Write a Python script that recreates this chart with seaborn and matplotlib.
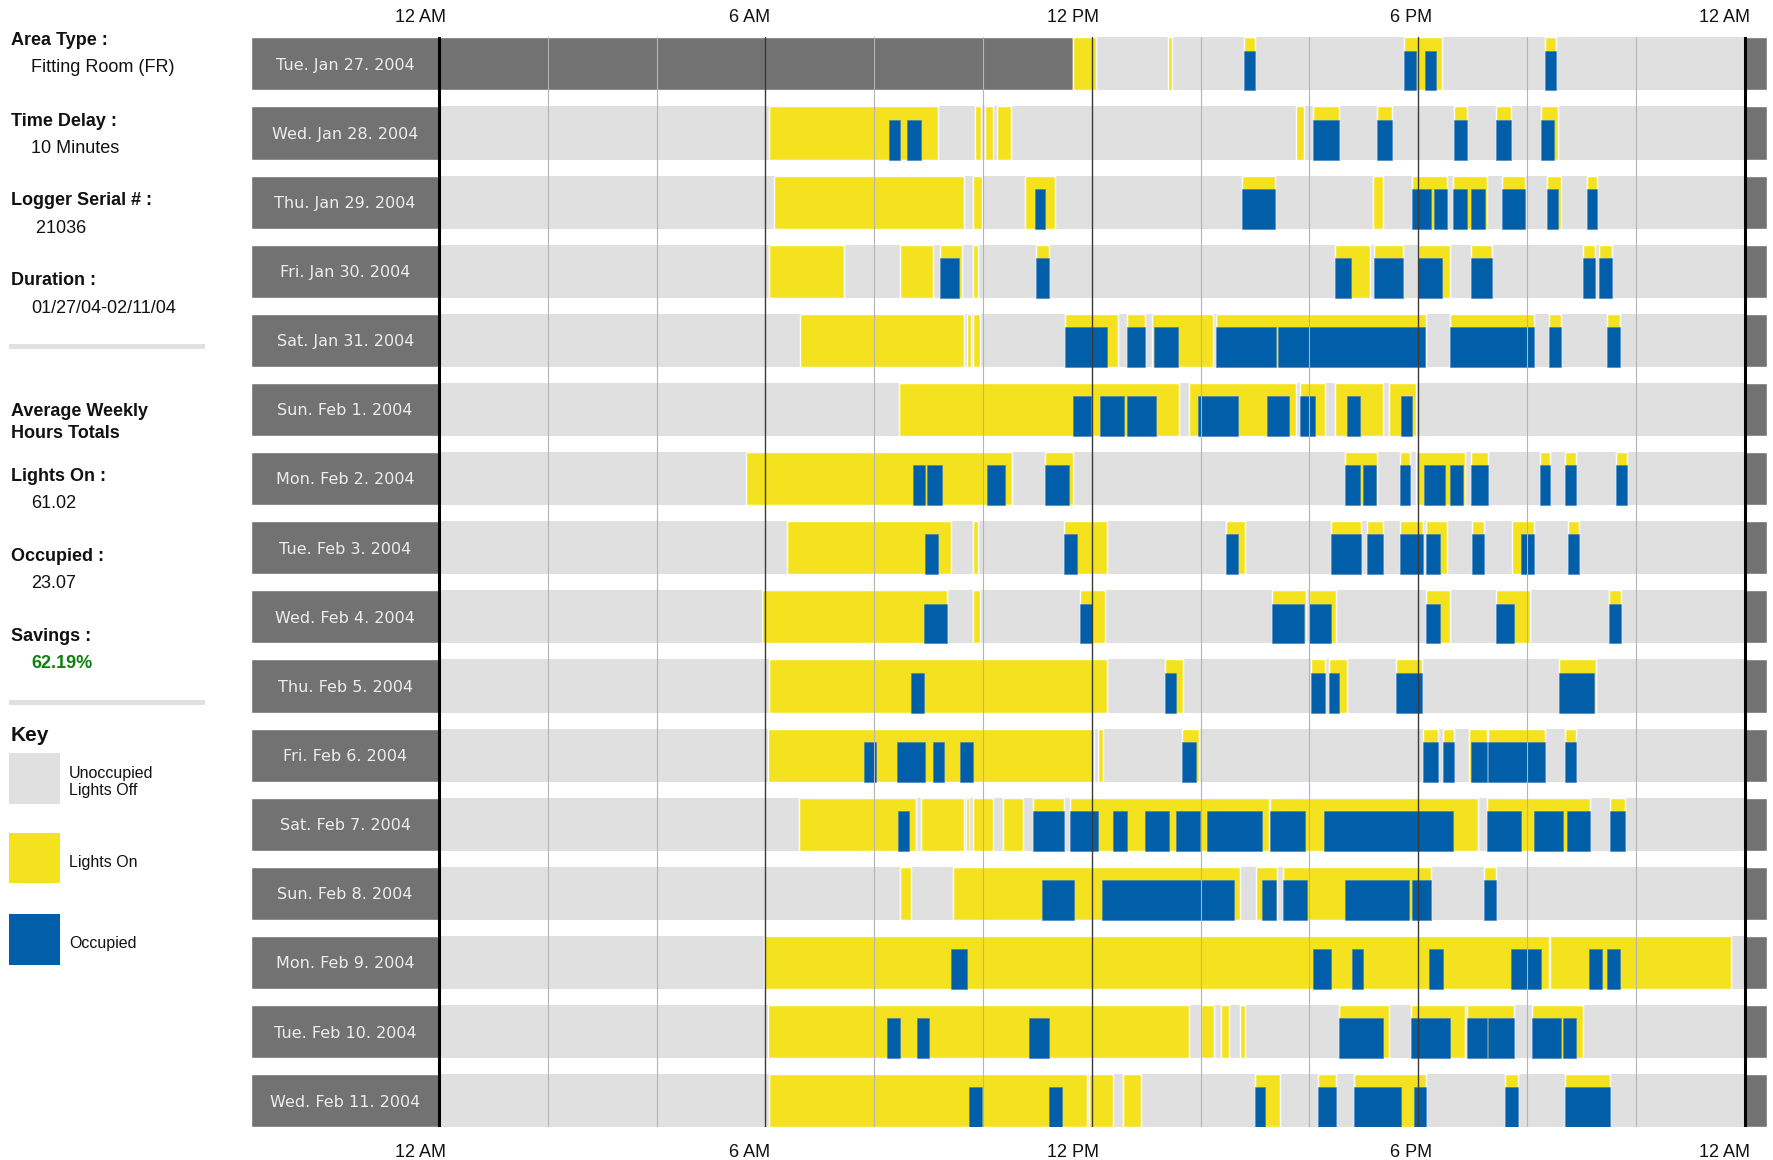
import matplotlib
matplotlib.use("Agg")
import matplotlib.pyplot as plt
from matplotlib.patches import Rectangle
import seaborn as sns

# ---- data (hours of day) ----
dates = ["Tue. Jan 27. 2004", "Wed. Jan 28. 2004", "Thu. Jan 29. 2004", "Fri. Jan 30. 2004",
         "Sat. Jan 31. 2004", "Sun. Feb 1. 2004", "Mon. Feb 2. 2004", "Tue. Feb 3. 2004",
         "Wed. Feb 4. 2004", "Thu. Feb 5. 2004", "Fri. Feb 6. 2004", "Sat. Feb 7. 2004",
         "Sun. Feb 8. 2004", "Mon. Feb 9. 2004", "Tue. Feb 10. 2004", "Wed. Feb 11. 2004"]

no_data = [(0, 11.65)]  # logger not yet running on first day

lights_on = [
    [(11.65, 12.07), (13.39, 13.47), (14.79, 14.99), (17.73, 18.43), (20.33, 20.54)],
    [(6.06, 9.18), (9.85, 9.96), (10.04, 10.18), (10.25, 10.51), (15.75, 15.89), (16.06, 16.54),
     (17.25, 17.52), (18.66, 18.89), (19.42, 19.70), (20.26, 20.57)],
    [(6.15, 9.65), (9.81, 9.98), (10.77, 11.32), (14.76, 15.36), (17.16, 17.36), (17.89, 18.52),
     (18.63, 19.26), (19.53, 19.96), (20.36, 20.63), (21.10, 21.29)],
    [(6.06, 7.44), (8.47, 9.08), (9.21, 9.61), (9.81, 9.91), (10.98, 11.22), (16.46, 17.11),
     (17.19, 17.72), (17.99, 18.59), (18.96, 19.36), (21.02, 21.24), (21.33, 21.56)],
    [(6.63, 9.65), (9.71, 9.77), (9.82, 9.95), (11.51, 12.48), (12.64, 12.98), (13.11, 14.22),
     (14.28, 18.15), (18.59, 20.12), (20.40, 20.63), (21.46, 21.70)],
    [(8.45, 13.61), (13.79, 15.75), (15.82, 16.28), (16.46, 17.36), (17.46, 17.96)],
    [(5.64, 10.54), (11.14, 11.65), (16.66, 17.25), (17.66, 17.85), (17.96, 18.85), (18.96, 19.28),
     (20.24, 20.43), (20.70, 20.89), (21.63, 21.83)],
    [(6.40, 9.41), (9.82, 9.91), (11.48, 12.28), (14.46, 14.81), (16.39, 16.95), (17.06, 17.36),
     (17.66, 18.09), (18.14, 18.52), (18.99, 19.20), (19.72, 20.12), (20.76, 20.96)],
    [(5.94, 9.34), (9.82, 9.94), (11.78, 12.25), (15.32, 15.93), (15.99, 16.49), (18.15, 18.59),
     (19.43, 20.06), (21.50, 21.73)],
    [(6.07, 12.28), (13.35, 13.67), (16.02, 16.28), (16.36, 16.69), (17.59, 18.07), (20.59, 21.26)],
    [(6.04, 12.04), (12.12, 12.21), (13.66, 13.96), (18.09, 18.36), (18.46, 18.66), (18.93, 19.26),
     (19.29, 20.33), (20.70, 20.89)],
    [(6.61, 8.77), (8.85, 9.65), (9.69, 9.74), (9.82, 10.18), (10.36, 10.74), (10.92, 11.48),
     (11.59, 15.25), (15.28, 19.10), (19.27, 21.16), (21.53, 21.80)],
    [(8.48, 8.68), (9.45, 14.72), (15.02, 15.41), (15.52, 18.23), (19.20, 19.42)],
    [(5.97, 20.40), (20.43, 23.74)],
    [(6.04, 13.79), (14.00, 14.25), (14.38, 14.52), (14.72, 14.81), (16.55, 17.46), (17.86, 18.86),
     (18.89, 19.76), (20.09, 21.02)],
    [(6.07, 11.91), (11.94, 12.38), (12.58, 12.91), (14.99, 15.46), (16.16, 16.49), (16.82, 18.15),
     (19.59, 19.83), (20.70, 21.53)],
]

occupied = [
    [(14.79, 14.99), (17.73, 17.96), (18.12, 18.33), (20.33, 20.54)],
    [(8.27, 8.48), (8.60, 8.85), (16.06, 16.54), (17.25, 17.52), (18.66, 18.89), (19.42, 19.70),
     (20.26, 20.50)],
    [(10.95, 11.14), (14.76, 15.36), (17.89, 18.23), (18.29, 18.52), (18.63, 18.90), (18.97, 19.23),
     (19.53, 19.96), (20.36, 20.57), (21.10, 21.29)],
    [(9.21, 9.55), (10.98, 11.22), (16.46, 16.76), (17.19, 17.72), (17.99, 18.43), (18.96, 19.36),
     (21.02, 21.24), (21.33, 21.56)],
    [(11.51, 12.28), (12.64, 12.98), (13.15, 13.59), (14.28, 15.38), (15.42, 18.12), (18.59, 20.12),
     (20.40, 20.63), (21.46, 21.70)],
    [(11.65, 11.98), (12.15, 12.59), (12.65, 13.18), (13.95, 14.68), (15.22, 15.62), (15.82, 16.11),
     (16.69, 16.92), (17.69, 17.89)],
    [(8.71, 8.94), (8.97, 9.24), (10.08, 10.41), (11.14, 11.58), (16.66, 16.92), (16.99, 17.22),
     (17.66, 17.85), (18.10, 18.49), (18.59, 18.82), (18.96, 19.28), (20.24, 20.43), (20.70, 20.89),
     (21.63, 21.83)],
    [(8.94, 9.18), (11.48, 11.72), (14.46, 14.68), (16.39, 16.95), (17.06, 17.36), (17.66, 18.09),
     (18.14, 18.39), (18.99, 19.20), (19.89, 20.12), (20.76, 20.96)],
    [(8.91, 9.34), (11.78, 12.01), (15.32, 15.89), (15.99, 16.39), (18.15, 18.39), (19.43, 19.76),
     (21.50, 21.73)],
    [(8.68, 8.91), (13.35, 13.54), (16.02, 16.28), (16.36, 16.55), (17.59, 18.07), (20.59, 21.23)],
    [(7.81, 8.04), (8.41, 8.94), (9.08, 9.28), (9.58, 9.82), (13.66, 13.92), (18.09, 18.36),
     (18.46, 18.66), (18.96, 19.26), (19.29, 20.33), (20.70, 20.89)],
    [(8.44, 8.64), (10.92, 11.48), (11.59, 12.11), (12.38, 12.65), (12.98, 13.41), (13.55, 13.98),
     (14.12, 15.12), (15.28, 15.92), (16.26, 18.63), (19.27, 19.89), (20.13, 20.66), (20.73, 21.16),
     (21.53, 21.80)],
    [(11.08, 11.68), (12.18, 14.62), (15.12, 15.38), (15.52, 15.95), (16.65, 17.82), (17.89, 18.23),
     (19.20, 19.42)],
    [(9.41, 9.71), (16.06, 16.39), (16.79, 16.99), (18.20, 18.46), (19.70, 20.26), (21.13, 21.37),
     (21.46, 21.70)],
    [(8.24, 8.48), (8.78, 9.01), (10.84, 11.22), (16.55, 17.36), (17.86, 18.59), (18.89, 19.26),
     (19.29, 19.76), (20.09, 20.63), (20.66, 20.89)],
    [(9.74, 9.98), (11.22, 11.45), (14.99, 15.19), (16.16, 16.49), (16.82, 17.69), (17.92, 18.15),
     (19.59, 19.83), (20.70, 21.53)],
]

tick_pos = [-0.34, 5.71, 11.66, 17.86, 23.63]
tick_labels = ["12 AM", "6 AM", "12 PM", "6 PM", "12 AM"]

info = [("Area Type :", "Fitting Room (FR)"), ("Time Delay :", "10 Minutes"),
        ("Logger Serial # :", " 21036"), ("Duration :", "01/27/04-02/11/04")]
totals = [("Lights On :", "61.02"), ("Occupied :", "23.07"), ("Savings :", "62.19%")]

# ---- style ----
DARK = "#717271"
GRAY = "#e0e0e0"
YELLOW = "#f5e21f"
BLUE = "#005fa8"
W, H = 1773, 1160

sns.set_theme(style="white")
plt.rcParams["font.family"] = ["Liberation Sans", "DejaVu Sans"]

fig = plt.figure(figsize=(W / 100, H / 100), dpi=100)
top_px, bot_px = 37.3, 1127.3
ax = fig.add_axes([251.4 / W, 1 - bot_px / H, (1767 - 251.4) / W, (bot_px - top_px) / H])

hh = 0.384       # half row height (row pitch = 1)
lab_w = 3.45     # width of the date box in hours
cap_w = 0.41

# background rows through seaborn
sns.barplot(x=[24] * len(dates), y=dates, orient="h", color=GRAY, saturation=1,
            width=2 * hh, linewidth=0, ax=ax)

for i, day in enumerate(dates):
    full = (i - hh, 2 * hh)
    ax.broken_barh([(-lab_w, lab_w)], full, facecolor=DARK, zorder=2)
    ax.broken_barh([(24, cap_w)], full, facecolor=DARK, zorder=2)
    if i == 0:
        ax.broken_barh([(a, b - a) for a, b in no_data], full, facecolor=DARK, zorder=2)
    ax.broken_barh([(a, b - a) for a, b in lights_on[i]], full, facecolor=YELLOW, zorder=3)
    ax.broken_barh([(a, b - a) for a, b in occupied[i]], (i - hh + 0.5 * hh, 1.5 * hh),
                   facecolor=BLUE, edgecolor="#3d7fbf", linewidth=0.4, zorder=4)
    ax.text(-lab_w / 2, i + 0.02, day, ha="center", va="center", color="#ededed",
            fontsize=11.5, family="DejaVu Sans", zorder=6)

for h in range(0, 25, 2):
    if h in (0, 24):
        ax.axvline(h, color="black", lw=2.2, zorder=5)
    elif h % 6 == 0:
        ax.axvline(h, color="#3a3a3a", lw=1.0, zorder=5)
    else:
        ax.axvline(h, color="#b4b4b4", lw=0.8, zorder=5)

ax.set_xlim(-lab_w, 24 + cap_w)
ax.set_ylim(len(dates) - 1 + hh, -hh)
ax.set_xlabel("")
ax.set_ylabel("")
ax.tick_params(left=False, labelleft=False)
for s in ax.spines.values():
    s.set_visible(False)
ax.set_xticks(tick_pos, tick_labels)
ax.tick_params(axis="x", length=0, labelsize=13, pad=12, colors="#111111")
sec = ax.secondary_xaxis("top")
sec.set_xticks(tick_pos, tick_labels)
sec.tick_params(axis="x", length=0, labelsize=13, pad=8, colors="#111111")
for s in sec.spines.values():
    s.set_visible(False)

# ---- left panel ----
def ftext(x, y, s, **kw):
    kw.setdefault("color", "#111111")
    kw.setdefault("fontsize", 13)
    fig.text(x / W, 1 - (y + 2.3) / H, s, ha="left", va="center", **kw)

def fbox(x0, y0, x1, y1, color):
    fig.patches.append(Rectangle((x0 / W, 1 - y1 / H), (x1 - x0) / W, (y1 - y0) / H,
                                 transform=fig.transFigure, facecolor=color, edgecolor="none"))

ys = [(38.4, 65.6), (118.7, 145.9), (197.9, 226.1), (278.2, 306.4)]
for (head, val), (y1, y2) in zip(info, ys):
    ftext(11, y1, head, fontweight="bold")
    ftext(31, y2, val)
fbox(9, 344, 205, 349, GRAY)

ftext(11, 409.3, "Average Weekly", fontweight="bold")
ftext(11, 430.8, "Hours Totals", fontweight="bold")
ys = [(473.8, 500.9), (554, 581.2), (634.3, 661.5)]
for (head, val), (y1, y2) in zip(totals, ys):
    ftext(11, y1, head, fontweight="bold")
    if head.startswith("Savings"):
        ftext(31, y2, val, fontweight="bold", color="#0f7f10")
    else:
        ftext(31, y2, val)
fbox(9, 700, 205, 705, GRAY)

ftext(11, 733, "Key", fontweight="bold", fontsize=15)
fbox(9, 753, 60, 804, GRAY)
fbox(9, 833, 60, 883, YELLOW)
fbox(9, 914, 60, 965, BLUE)
ftext(69, 771, "Unoccupied", fontsize=11.5)
ftext(69, 788, "Lights Off", fontsize=11.5)
ftext(69, 860, "Lights On", fontsize=11.5)
ftext(69, 941.5, "Occupied", fontsize=11.5)

fig.savefig("out.png", dpi=100, facecolor="white")
